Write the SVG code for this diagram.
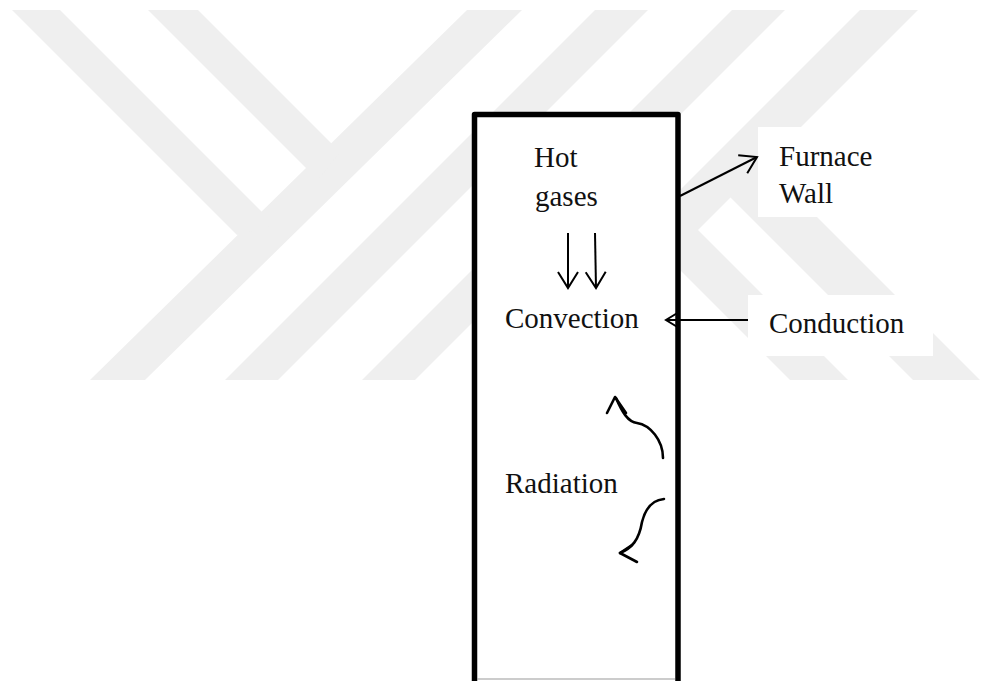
<svg xmlns="http://www.w3.org/2000/svg" width="981" height="681" viewBox="0 0 981 681">
<style>
.wm{fill:#efefef}
.lbl{font-family:"Liberation Serif","Times New Roman",serif;font-size:29px;fill:#111}
.ln{fill:none;stroke:#000;stroke-width:2}
.cv{fill:none;stroke:#000;stroke-width:2.6;stroke-linecap:round;stroke-linejoin:round}
</style>
<defs>
<marker id="open" markerUnits="userSpaceOnUse" markerWidth="24" markerHeight="26" viewBox="-20 -13 24 26" refX="0" refY="0" orient="auto" overflow="visible">
<path d="M-16,-10 L0,0 L-16,10" fill="none" stroke="#000" stroke-width="2" stroke-linejoin="miter"/>
</marker>
</defs>
<rect width="981" height="681" fill="#fff"/>
<g id="watermark">
<polygon class="wm" points="90,380 145,380 522,10 467,10"/>
<polygon class="wm" points="225,380 278,380 648,10 595,10"/>
<polygon class="wm" points="362,380 415,380 785,10 732,10"/>
<polygon class="wm" points="490,380 548,380 918,10 860,10"/>
<polygon class="wm" points="12,10 60,10 275,225 237,235"/>
<polygon class="wm" points="148,10 198,10 340,152 318,180"/>
<polygon class="wm" points="640,230 698,230 848,380 790,380"/>
<polygon class="wm" points="913,380 980,380 764,164 740,164 720,197 730,197"/>
</g>
<g id="furnace">
<path d="M474.5,681 V114.5 H678 V681" fill="#fff" stroke="#000" stroke-width="5.5" stroke-linejoin="round"/>
<line x1="477" y1="679" x2="675" y2="679" stroke="#999" stroke-width="1"/>
</g>
<g id="hot-gases">
<text class="lbl" x="534" y="167">Hot</text>
<text class="lbl" x="535" y="206">gases</text>
</g>
<g id="convection">
<text class="lbl" x="505" y="328">Convection</text>
</g>
<g id="radiation">
<text class="lbl" x="505" y="493">Radiation</text>
</g>
<g id="furnace-wall">
<rect x="758" y="127" width="122" height="90" fill="#fff"/>
<text class="lbl" x="779" y="166">Furnace</text>
<text class="lbl" x="779" y="203">Wall</text>
</g>
<g id="conduction">
<rect x="748" y="295" width="185" height="61" fill="#fff"/>
<text class="lbl" x="769" y="333">Conduction</text>
</g>
<g id="connectors">
<line class="ln" x1="568" y1="233" x2="568" y2="288" marker-end="url(#open)"/>
<line class="ln" x1="595" y1="233" x2="596" y2="288" marker-end="url(#open)"/>
<line class="ln" x1="680" y1="196" x2="757" y2="157" marker-end="url(#open)"/>
<line class="ln" x1="748" y1="320" x2="666" y2="320"/>
<path class="ln" d="M679,312 L666,320 L679,328" stroke-width="2.4"/>
<path class="cv" d="M663,458 C663,440 650,425 637,423 C628,422 622,412 616,398"/>
<path class="cv" d="M607,413 L615,397 L626,413"/>
<path class="cv" d="M664,499 C652,500 645,510 642,522 C639,540 632,548 620,553"/>
<path class="cv" d="M632,545 L620,553 L637,562"/>
</g>
</svg>
